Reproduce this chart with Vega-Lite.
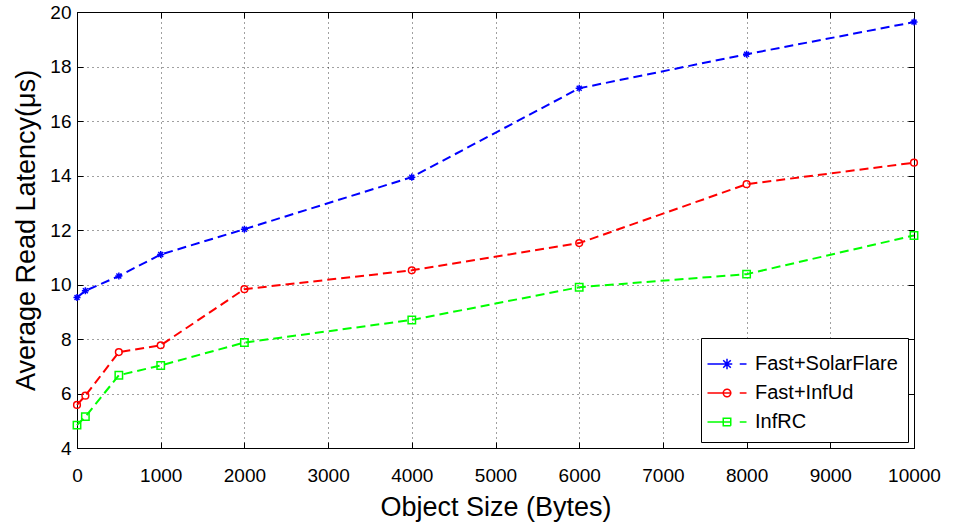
{
  "$schema": "https://vega.github.io/schema/vega-lite/v6.json",
  "width": 837,
  "height": 436,
  "autosize": {"type": "none"},
  "padding": {"left": 77, "top": 12, "right": 43, "bottom": 76},
  "background": "white",
  "config": {
    "font": "Liberation Sans",
    "view": {"stroke": "black", "strokeWidth": 1},
    "axis": {
      "labelFont": "Liberation Sans",
      "labelFontSize": 19,
      "labelColor": "black",
      "labelFlush": false,
      "labelOverlap": false,
      "titleFont": "Liberation Sans",
      "titleFontSize": 27,
      "titleFontWeight": "normal",
      "titleColor": "black",
      "domain": false,
      "tickColor": "black",
      "tickSize": -6,
      "tickWidth": 1,
      "grid": true,
      "gridColor": "black",
      "gridDash": [1, 4],
      "gridOpacity": 0.75
    },
    "legend": {
      "orient": "bottom-right",
      "offset": 6,
      "strokeColor": "black",
      "fillColor": "white",
      "padding": 10,
      "labelFont": "Liberation Sans",
      "labelFontSize": 20,
      "labelColor": "black",
      "symbolSize": 900,
      "rowPadding": 3,
      "labelOffset": 12
    }
  },
  "data": {
    "values": [
      {"size": 0, "latency": 9.52, "series": "Fast+SolarFlare"},
      {"size": 100, "latency": 9.77, "series": "Fast+SolarFlare"},
      {"size": 500, "latency": 10.31, "series": "Fast+SolarFlare"},
      {"size": 1000, "latency": 11.1, "series": "Fast+SolarFlare"},
      {"size": 2000, "latency": 12.03, "series": "Fast+SolarFlare"},
      {"size": 4000, "latency": 13.94, "series": "Fast+SolarFlare"},
      {"size": 6000, "latency": 17.2, "series": "Fast+SolarFlare"},
      {"size": 8000, "latency": 18.45, "series": "Fast+SolarFlare"},
      {"size": 10000, "latency": 19.63, "series": "Fast+SolarFlare"},
      {"size": 0, "latency": 5.58, "series": "Fast+InfUd"},
      {"size": 100, "latency": 5.92, "series": "Fast+InfUd"},
      {"size": 500, "latency": 7.52, "series": "Fast+InfUd"},
      {"size": 1000, "latency": 7.77, "series": "Fast+InfUd"},
      {"size": 2000, "latency": 9.83, "series": "Fast+InfUd"},
      {"size": 4000, "latency": 10.52, "series": "Fast+InfUd"},
      {"size": 6000, "latency": 11.52, "series": "Fast+InfUd"},
      {"size": 8000, "latency": 13.68, "series": "Fast+InfUd"},
      {"size": 10000, "latency": 14.47, "series": "Fast+InfUd"},
      {"size": 0, "latency": 4.84, "series": "InfRC"},
      {"size": 100, "latency": 5.15, "series": "InfRC"},
      {"size": 500, "latency": 6.67, "series": "InfRC"},
      {"size": 1000, "latency": 7.03, "series": "InfRC"},
      {"size": 2000, "latency": 7.87, "series": "InfRC"},
      {"size": 4000, "latency": 8.7, "series": "InfRC"},
      {"size": 6000, "latency": 9.9, "series": "InfRC"},
      {"size": 8000, "latency": 10.38, "series": "InfRC"},
      {"size": 10000, "latency": 11.8, "series": "InfRC"}
    ]
  },
  "layer": [
    {
      "mark": {"type": "line", "strokeDash": [9, 5], "strokeWidth": 2},
      "encoding": {
        "x": {
          "field": "size", "type": "quantitative",
          "scale": {"domain": [0, 10000], "nice": false},
          "axis": {"orient": "bottom", "title": "Object Size (Bytes)", "values": [0,1000,2000,3000,4000,5000,6000,7000,8000,9000,10000], "format": "d", "labelPadding": 24, "titlePadding": 9}
        },
        "y": {
          "field": "latency", "type": "quantitative",
          "scale": {"domain": [4, 20], "nice": false, "zero": false},
          "axis": {"orient": "left", "title": "Average Read Latency(μs)", "values": [4,6,8,10,12,14,16,18,20], "labelPadding": 12, "titlePadding": 9}
        },
        "color": {
          "field": "series", "type": "nominal",
          "scale": {"domain": ["Fast+SolarFlare", "Fast+InfUd", "InfRC"], "range": ["#0000ff", "#ff0000", "#00ff00"]},
          "legend": {
            "title": null,
            "symbolType": "M-1.3,0H1.3",
            "encode": {
              "symbols": {
                "update": {
                  "shape": [
                    {"test": "datum.value === 'Fast+SolarFlare'", "value": "M-1.3,0H0.3M0.85,0H1.3M-0.35,0H0.35M0,-0.35V0.35M-0.25,-0.25L0.25,0.25M-0.25,0.25L0.25,-0.25"},
                    {"test": "datum.value === 'Fast+InfUd'", "value": "M-1.3,0H0.3M0.85,0H1.3M0.25,0A0.25,0.25 0 1,1 -0.25,0A0.25,0.25 0 1,1 0.25,0"},
                    {"value": "M-1.3,0H0.3M0.85,0H1.3M-0.25,-0.25H0.25V0.25H-0.25Z"}
                  ],
                  "fill": {"value": "transparent"},
                  "strokeWidth": {"value": 1.5},
                  "strokeDash": {"value": [1, 0]}
                }
              }
            }
          }
        }
      }
    },
    {
      "transform": [{"filter": "datum.series === 'Fast+SolarFlare'"}],
      "mark": {"type": "point", "filled": false, "size": 50, "strokeWidth": 1.5, "opacity": 1, "shape": "M-1,0H1M0,-1V1M-0.7,-0.7L0.7,0.7M-0.7,0.7L0.7,-0.7"},
      "encoding": {
        "x": {
          "field": "size", "type": "quantitative",
          "axis": {"orient": "top", "title": null, "labels": false, "grid": false, "values": [0,1000,2000,3000,4000,5000,6000,7000,8000,9000,10000]}
        },
        "y": {
          "field": "latency", "type": "quantitative",
          "axis": {"orient": "right", "title": null, "labels": false, "grid": false, "values": [4,6,8,10,12,14,16,18,20]}
        },
        "color": {"field": "series", "type": "nominal", "legend": null}
      }
    },
    {
      "transform": [{"filter": "datum.series === 'Fast+InfUd'"}],
      "mark": {"type": "point", "filled": false, "size": 45, "strokeWidth": 1.5, "opacity": 1, "shape": "circle"},
      "encoding": {
        "x": {"field": "size", "type": "quantitative", "axis": null},
        "y": {"field": "latency", "type": "quantitative", "axis": null},
        "color": {"field": "series", "type": "nominal", "legend": null}
      }
    },
    {
      "transform": [{"filter": "datum.series === 'InfRC'"}],
      "mark": {"type": "point", "filled": false, "size": 55, "strokeWidth": 1.5, "opacity": 1, "shape": "square"},
      "encoding": {
        "x": {"field": "size", "type": "quantitative", "axis": null},
        "y": {"field": "latency", "type": "quantitative", "axis": null},
        "color": {"field": "series", "type": "nominal", "legend": null}
      }
    }
  ],
  "resolve": {"axis": {"x": "independent", "y": "independent"}}
}
